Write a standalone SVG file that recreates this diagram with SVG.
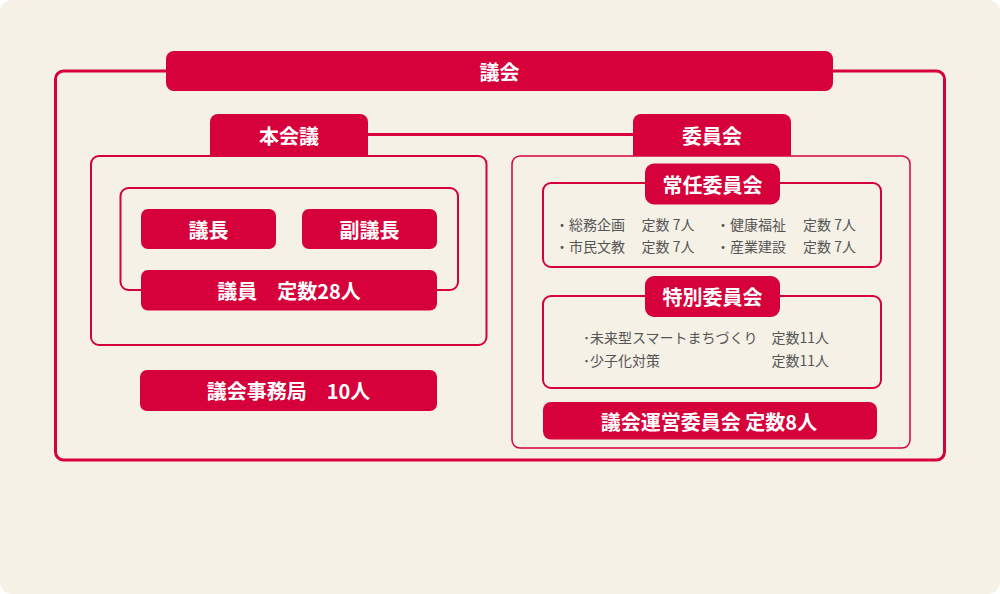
<svg xmlns="http://www.w3.org/2000/svg" width="1000" height="594" viewBox="0 0 1000 594">
<style>
.bg{fill:#f5f1e6}
.fill{fill:#d6003a}
.frame{fill:none;stroke:#d6003a}
.lbl{font-family:"Noto Sans CJK JP","Noto Sans",sans-serif;font-weight:bold;font-size:20px;fill:#ffffff;text-anchor:middle;dominant-baseline:central}
.txt{font-family:"Noto Sans CJK JP","Noto Sans",sans-serif;font-size:14px;fill:#555555}
</style>
<rect x="0" y="0" width="1000" height="594" fill="#ffffff"/>
<rect class="bg" x="0" y="0" width="1000" height="594" rx="12"/>

<g id="frame-gikai">
<rect class="frame" x="55.5" y="71" width="889" height="389" rx="8" stroke-width="3"/>
</g>

<g id="connectors">
<line x1="366" y1="134.5" x2="636" y2="134.5" stroke="#d6003a" stroke-width="3"/>
</g>

<g id="gikai">
<rect class="fill" x="166" y="51" width="667" height="40" rx="8"/>
<text class="lbl" x="499.5" y="71.5">議会</text>
</g>

<g id="honkaigi">
<rect class="frame" x="91" y="156" width="395.5" height="189" rx="8" stroke-width="2"/>
<path class="fill" d="M210,156 V122 a8,8 0 0 1 8,-8 H360 a8,8 0 0 1 8,8 V156 Z"/>
<text class="lbl" x="289" y="135">本会議</text>
<rect class="frame" x="120.5" y="188" width="337.5" height="102" rx="8" stroke-width="2"/>
</g>

<g id="gicho">
<rect class="fill" x="141" y="209" width="135" height="40" rx="7"/>
<text class="lbl" x="208.5" y="229.5">議長</text>
</g>

<g id="fukugicho">
<rect class="fill" x="302" y="209" width="135" height="40" rx="7"/>
<text class="lbl" x="369.5" y="229.5">副議長</text>
</g>

<g id="giin">
<rect class="fill" x="141" y="270" width="296" height="40.5" rx="7"/>
<text class="lbl" x="289" y="290.5">議員　定数28人</text>
</g>

<g id="jimukyoku">
<rect class="fill" x="140" y="370" width="297" height="41" rx="7"/>
<text class="lbl" x="288.5" y="390.5">議会事務局　10人</text>
</g>

<g id="iinkai">
<rect class="frame" x="512" y="156" width="398" height="292" rx="8" stroke-width="1.5"/>
<path class="fill" d="M633,156 V122 a8,8 0 0 1 8,-8 H783 a8,8 0 0 1 8,8 V156 Z"/>
<text class="lbl" x="712" y="135">委員会</text>
</g>

<g id="jonin">
<rect class="frame" x="543" y="183" width="338" height="84" rx="8" stroke-width="2"/>
<rect class="fill" x="645" y="163.5" width="135" height="41" rx="9"/>
<text class="lbl" x="712.5" y="184">常任委員会</text>
<text class="txt" x="555" y="230">・総務企画</text>
<text class="txt" x="641.5" y="230">定数 7人</text>
<text class="txt" x="716" y="230">・健康福祉</text>
<text class="txt" x="803" y="230">定数 7人</text>
<text class="txt" x="555" y="252">・市民文教</text>
<text class="txt" x="641.5" y="252">定数 7人</text>
<text class="txt" x="716" y="252">・産業建設</text>
<text class="txt" x="803" y="252">定数 7人</text>
</g>

<g id="tokubetsu">
<rect class="frame" x="543" y="296" width="338" height="92" rx="8" stroke-width="2"/>
<rect class="fill" x="645" y="276" width="135" height="41" rx="9"/>
<text class="lbl" x="712.5" y="296.5">特別委員会</text>
<text class="txt" x="583" y="343">･未来型スマートまちづくり</text>
<text class="txt" x="771.5" y="343">定数11人</text>
<text class="txt" x="583" y="366">･少子化対策</text>
<text class="txt" x="771.5" y="366">定数11人</text>
</g>

<g id="unei">
<rect class="fill" x="543" y="402" width="334" height="37.5" rx="8"/>
<text class="lbl" x="709" y="421">議会運営委員会 定数8人</text>
</g>
</svg>
